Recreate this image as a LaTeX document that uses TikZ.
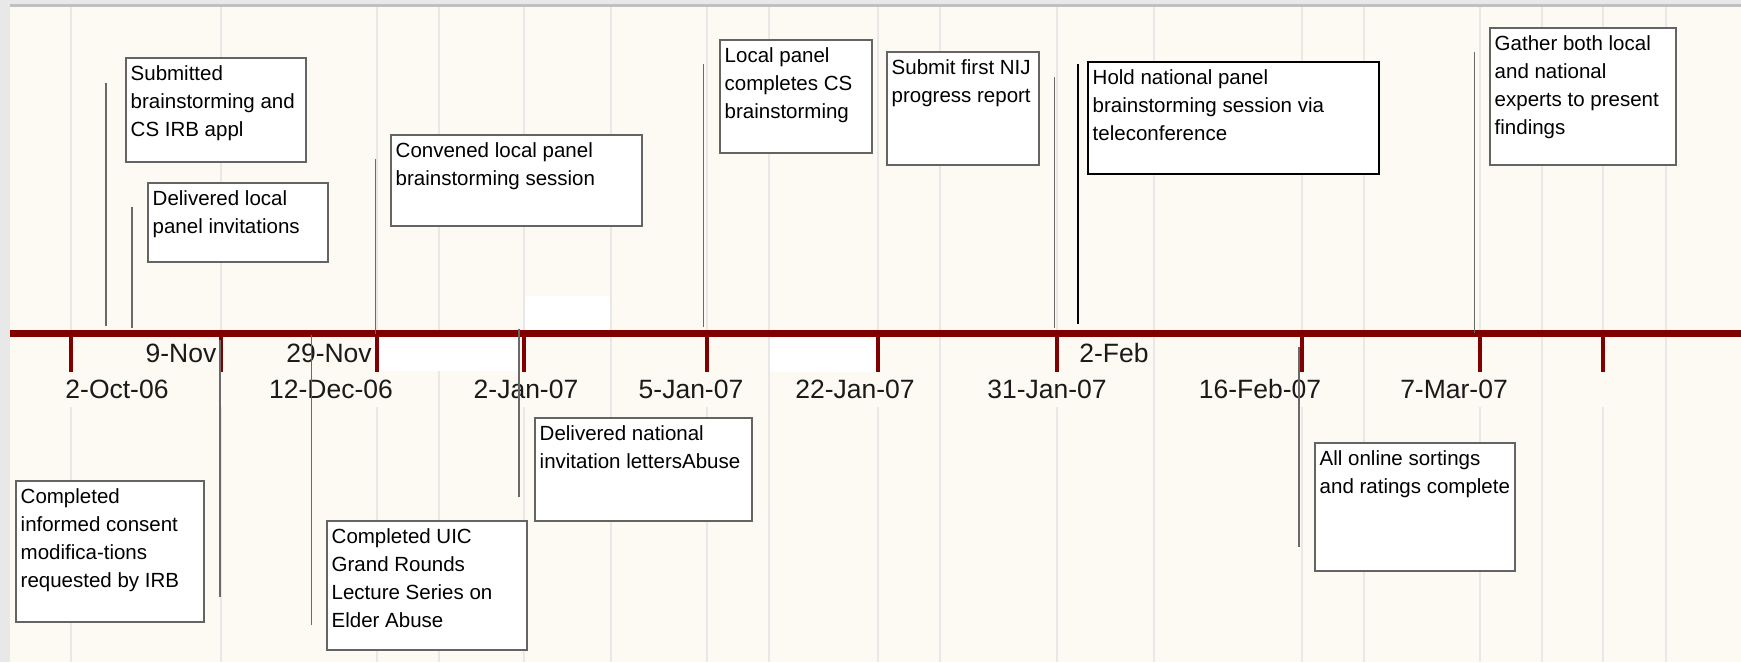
\documentclass[tikz,border=0pt]{standalone}
\usepackage{fontspec}
\setmainfont{Liberation Sans}
\usetikzlibrary{calc}
\definecolor{canvas}{RGB}{253,250,243}
\definecolor{gridc}{RGB}{232,232,232}
\definecolor{axisred}{RGB}{128,0,0}
\definecolor{framec}{RGB}{232,232,232}
\definecolor{toprule}{RGB}{192,192,192}
\definecolor{boxline}{RGB}{100,100,100}
\definecolor{stemc}{RGB}{105,105,105}
\definecolor{labelc}{RGB}{26,26,26}

% event note: box from (x1,y1) to (x2,y2) with its text set at the top left
\newcommand\eventnote[7][note]{%
  \node[#1, minimum width={#5-#3}, minimum height={#6-#4}] (#2) at (#3,#4) {};
  \node[notetext] (#2-t) at ($(#2.north west)+(4.5,22)$) {\parbox[t]{300pt}{\raggedright #7}};
}

\begin{document}
\begin{tikzpicture}[x=1pt,y=-1pt,
  note/.style={draw=boxline, line width=1.5pt, fill=white, anchor=north west, inner sep=0pt, outer sep=0pt},
  keynote/.style={note, draw=black, line width=2pt},
  notetext/.style={anchor=base west, inner sep=0pt, font=\fontsize{20.5}{28}\selectfont},
  ticklabel/.style={anchor=base, inner sep=0pt, text=labelc, font=\fontsize{26.5}{26.5}\selectfont},
  gridline/.style={draw=gridc, line width=2pt},
  stem/.style={draw=stemc, line width=1.5pt},
  keystem/.style={draw=black, line width=2pt},
  axis/.style={draw=axisred, line width=7pt},
  axistick/.style={draw=axisred, line width=4.5pt}]

\useasboundingbox (0,0) rectangle (1741,662);

% frame and canvas
\fill[framec] (0,0) rectangle (1741,662);
\fill[toprule] (10,4) rectangle (1741,7);
\fill[canvas] (10,7) rectangle (1741,662);

% vertical grid
\foreach \x in {439,611,769,940,1154,1364,1542,1666}
  \draw[gridline] (\x,7) -- (\x,662);
\foreach \x in {71,221,377,524,707,878,1057,1302,1480,1603} {
  \draw[gridline] (\x,7) -- (\x,372);
  \draw[gridline] (\x,407) -- (\x,662);
}

% blank label plates
\fill[white] (377,336) rectangle (518,371);
\fill[white] (525,296) rectangle (610,330);
\fill[white] (770,336) rectangle (876,372);

% time axis
\draw[axis] (10,333) -- (1741,333);
\foreach \x in {71,221,377,524,707,878,1057,1302,1480,1603}
  \draw[axistick] (\x,333) -- (\x,372);

% axis labels
\node[ticklabel] (d1) at (117,398) {2-Oct-06};
\node[ticklabel] (d2) at (181,362) {9-Nov};
\node[ticklabel] (d3) at (329,362) {29-Nov};
\node[ticklabel] (d4) at (331,398) {12-Dec-06};
\node[ticklabel] (d5) at (526,398) {2-Jan-07};
\node[ticklabel] (d6) at (691,398) {5-Jan-07};
\node[ticklabel] (d7) at (855,398) {22-Jan-07};
\node[ticklabel] (d8) at (1047,398) {31-Jan-07};
\node[ticklabel] (d9) at (1114,362) {2-Feb};
\node[ticklabel] (d10) at (1260,398) {16-Feb-07};
\node[ticklabel] (d11) at (1454,398) {7-Mar-07};

% event notes
\eventnote{sub}{126}{58}{306}{162}{Submitted\\brainstorming and\\CS IRB appl}
\eventnote{dli}{148}{183}{328}{262}{Delivered local\\panel invitations}
\eventnote{conv}{391}{135}{642}{226}{Convened local panel\\brainstorming session}
\eventnote{lpc}{720}{40}{872}{153}{Local panel\\completes CS\\brainstorming}
\eventnote{nij}{887}{52}{1039}{165}{Submit first NIJ\\progress report}
\eventnote[keynote]{hold}{1088}{62}{1379}{174}{Hold national panel\\brainstorming session via\\teleconference}
\eventnote{gath}{1490}{28}{1676}{165}{Gather both local\\and national\\experts to present\\findings}
\eventnote{icm}{16}{481}{204}{622}{Completed\\informed consent\\modifica-tions\\requested by IRB}
\eventnote{uic}{327}{521}{527}{650}{Completed UIC\\Grand Rounds\\Lecture Series on\\Elder Abuse}
\eventnote{dnl}{535}{418}{752}{521}{Delivered national\\invitation lettersAbuse}
\eventnote{onl}{1315}{443}{1515}{571}{All online sortings\\and ratings complete}

% date stems
\coordinate (sub-a) at (106,83);   \coordinate (sub-b) at (106,326);
\coordinate (dli-a) at (132,207);  \coordinate (dli-b) at (132,328);
\coordinate (conv-a) at (375.5,159); \coordinate (conv-b) at (375.5,334);
\coordinate (lpc-a) at (703.5,64); \coordinate (lpc-b) at (703.5,327);
\coordinate (nij-a) at (1054.5,77); \coordinate (nij-b) at (1054.5,328);
\coordinate (hold-a) at (1078,64); \coordinate (hold-b) at (1078,324);
\coordinate (gath-a) at (1474.5,52); \coordinate (gath-b) at (1474.5,333);
\coordinate (icm-a) at (220,340);  \coordinate (icm-b) at (220,597);
\coordinate (uic-a) at (311.5,335); \coordinate (uic-b) at (311.5,625);
\coordinate (dnl-a) at (519,329);  \coordinate (dnl-b) at (519,497);
\coordinate (onl-a) at (1299,347); \coordinate (onl-b) at (1299,547);

\foreach \n in {sub,dli,conv,lpc,nij,gath,icm,uic,dnl,onl}
  \draw[stem] (\n-a) -- (\n-b);
\draw[keystem] (hold-a) -- (hold-b);

\end{tikzpicture}
\end{document}
